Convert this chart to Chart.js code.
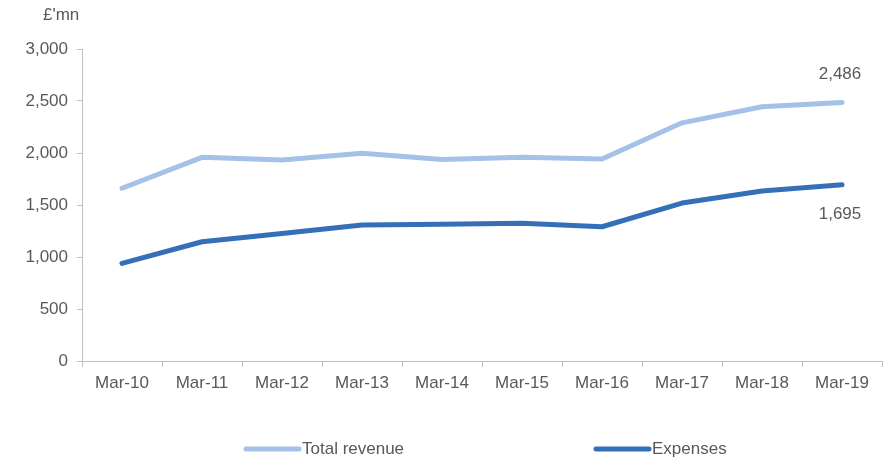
<!DOCTYPE html>
<html>
<head>
<meta charset="utf-8">
<script src="https://cdn.jsdelivr.net/npm/chart.js@4"></script>
<style>
  html, body { margin: 0; padding: 0; background: #fff; }
  #wrap { width: 892px; height: 460px; position: relative; }
</style>
</head>
<body>
<div id="wrap"><canvas id="c" width="892" height="460"></canvas></div>
<script>
const categories = ["Mar-10","Mar-11","Mar-12","Mar-13","Mar-14","Mar-15","Mar-16","Mar-17","Mar-18","Mar-19"];
const totalRevenue = [1661, 1958, 1933, 1997, 1938, 1960, 1942, 2290, 2445, 2486];
const expenses = [939, 1147, 1227, 1308, 1314, 1325, 1291, 1519, 1635, 1695];
const yTicks = [0, 500, 1000, 1500, 2000, 2500, 3000];
const unitLabel = "£'mn";
const seriesNames = ["Total revenue", "Expenses"];
const seriesColors = ["#A4C1E7", "#3470B8"];

const FONT = "'Liberation Sans', Arial, sans-serif";
const TEXT = "#595959";
const AXIS = "#BFBFBF";

const extras = {
  id: 'extras',
  afterDraw(chart) {
    const ctx = chart.ctx;
    const x = chart.scales.x, y = chart.scales.y;
    ctx.save();
    ctx.fillStyle = TEXT;
    ctx.font = "17px " + FONT;
    // unit label
    ctx.textAlign = 'left';
    ctx.textBaseline = 'middle';
    ctx.fillText(unitLabel, 43, 15);
    // end-point data labels
    const last = categories.length - 1;
    const px = x.getPixelForValue(last);
    ctx.textAlign = 'center';
    ctx.fillText(totalRevenue[last].toLocaleString('en-US'), px - 2, y.getPixelForValue(totalRevenue[last]) - 28);
    ctx.fillText(expenses[last].toLocaleString('en-US'), px - 2, y.getPixelForValue(expenses[last]) + 30);
    // legend
    const legendY = 449;
    const starts = [244, 594];
    ctx.lineCap = 'round';
    ctx.lineWidth = 5;
    ctx.textAlign = 'left';
    for (let i = 0; i < seriesNames.length; i++) {
      ctx.strokeStyle = seriesColors[i];
      ctx.beginPath();
      ctx.moveTo(starts[i] + 2, legendY);
      ctx.lineTo(starts[i] + 55, legendY);
      ctx.stroke();
      ctx.fillText(seriesNames[i], starts[i] + 58, legendY);
    }
    ctx.restore();
  }
};

new Chart(document.getElementById('c'), {
  type: 'line',
  data: {
    labels: categories,
    datasets: [
      { label: seriesNames[0], data: totalRevenue, borderColor: seriesColors[0], backgroundColor: seriesColors[0], borderWidth: 5, pointRadius: 0, tension: 0, borderCapStyle: 'round', borderJoinStyle: 'round' },
      { label: seriesNames[1], data: expenses, borderColor: seriesColors[1], backgroundColor: seriesColors[1], borderWidth: 5, pointRadius: 0, tension: 0, borderCapStyle: 'round', borderJoinStyle: 'round' }
    ]
  },
  options: {
    responsive: false,
    animation: false,
    devicePixelRatio: 1,
    layout: { padding: { top: 49, right: 10, bottom: 40, left: 0 } },
    plugins: { legend: { display: false }, tooltip: { enabled: false } },
    scales: {
      x: {
        type: 'category',
        offset: true,
        grid: { display: true, offset: true, drawOnChartArea: false, drawTicks: true, tickLength: 6, color: AXIS, lineWidth: 1 },
        border: { display: true, color: AXIS, width: 1 },
        ticks: { color: TEXT, font: { family: FONT, size: 17 }, padding: 6, maxRotation: 0, autoSkip: false },
        afterFit(s) { s.height = 59; }
      },
      y: {
        min: 0, max: 3000,
        afterBuildTicks(s) { s.ticks = yTicks.map(v => ({ value: v })); },
        grid: { display: true, drawOnChartArea: false, drawTicks: true, tickLength: 5, color: AXIS, lineWidth: 1 },
        border: { display: true, color: AXIS, width: 1 },
        ticks: { color: TEXT, font: { family: FONT, size: 17 }, padding: 9, callback: v => v.toLocaleString('en-US') },
        afterFit(s) { s.width = 82; }
      }
    }
  },
  plugins: [extras]
});
</script>
</body>
</html>
